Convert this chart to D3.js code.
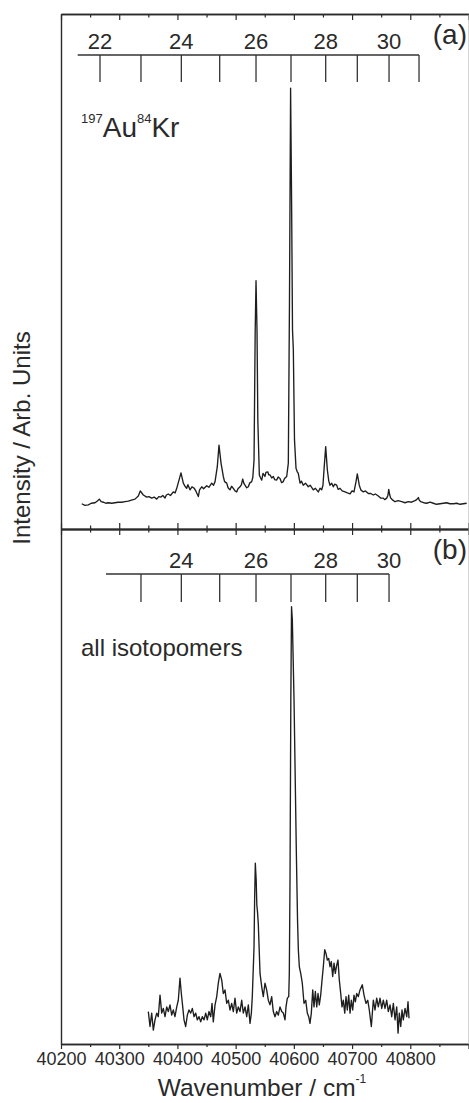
<!DOCTYPE html>
<html><head><meta charset="utf-8">
<script src="https://cdn.jsdelivr.net/npm/d3@7"></script>
<style>
html,body{margin:0;padding:0;background:#fff;}
svg{display:block;}
text{font-family:"Liberation Sans",Arial,Helvetica,sans-serif;fill:#2a2a2a;}
</style></head>
<body>
<svg id="chart" width="469" height="1103"></svg>
<script>
// ---------- data ----------
const xDomain = [40200, 40900];
const xTickValues = [40200, 40300, 40400, 40500, 40600, 40700, 40800, 40900];
const xTickLabels = ["40200", "40300", "40400", "40500", "40600", "40700", "40800", ""];
const xMinorTicks = [40250, 40350, 40450, 40550, 40650, 40750, 40850];

const panelLabels = ["(a)", "(b)"];
const speciesLabelA = [["197", "sup"], ["Au", "main"], ["84", "sup"], ["Kr", "main"]];
const speciesLabelB = "all isotopomers";
const xTitle = "Wavenumber / cm";
const xTitleSup = "-1";
const yTitle = "Intensity / Arb. Units";

// rotational assignment combs (J, wavenumber)
const combA_J  = [22, 23, 24, 25, 26, 27, 28, 29, 30, 31];
const combA_wn = [40267.0, 40337.4, 40406.7, 40472.6, 40535.0, 40595.1, 40654.7, 40709.0, 40763.5, 40815.0];
const combA_start = 40228.7;
const combB_J  = [23, 24, 25, 26, 27, 28, 29, 30];
const combB_wn = [40337.4, 40406.7, 40472.6, 40535.0, 40595.1, 40654.7, 40709.0, 40763.5];
const combB_start = 40277.3;

// spectrum (a): 197Au84Kr  [wavenumber, intensity]
const spectrumA = [[40235.6,4.9],[40241,4.6],[40246.9,4.7],[40252,5.0],[40258.4,5.1],[40262,5.4],[40265.8,5.8],[40269,5.3],[40272.7,5.2],[40277,5.0],[40281.3,5.1],[40287,5.0],[40292.8,5.1],[40298,5.2],[40304.3,5.2],[40310,5.3],[40315.6,5.4],[40321,5.6],[40327.1,5.8],[40332.8,6.4],[40336.2,7.4],[40341.4,6.6],[40347.2,6.2],[40351,6.3],[40355.8,6.0],[40360,6.2],[40364.4,5.8],[40368,6.3],[40371.8,6.2],[40375,6.5],[40378.7,6.0],[40381,6.6],[40384.3,6.8],[40388,6.5],[40392.9,7.2],[40396,7.0],[40398.8,7.9],[40402.7,9.5],[40406.1,10.9],[40410.1,8.9],[40413,8.3],[40415.9,7.9],[40418,8.6],[40421.6,7.6],[40425,8.2],[40429.0,7.9],[40432,7.3],[40435.9,6.3],[40438,7.6],[40441.7,8.2],[40445,7.8],[40450.3,8.4],[40454,8.1],[40458.9,8.9],[40462,8.5],[40464.6,9.2],[40468.5,12.1],[40471.4,16.3],[40474.9,12.8],[40478.8,10.2],[40481,9.2],[40484.7,8.9],[40487,8.0],[40490.3,7.6],[40493,8.3],[40496.0,7.9],[40499,7.4],[40501.8,7.2],[40504,7.8],[40507.5,8.2],[40510,8.6],[40512.1,9.7],[40514,8.9],[40516.1,8.5],[40519,8.0],[40521.8,8.2],[40524,8.9],[40527.6,9.2],[40529.5,10.0],[40531.6,13.4],[40533.6,38.6],[40535.0,48.2],[40536.7,38.6],[40538.1,21.2],[40540.7,10.5],[40542.5,10.0],[40544.8,9.5],[40547,10.8],[40550.4,10.2],[40552,11.0],[40555.1,11.1],[40557,10.5],[40559.0,10.5],[40562,9.9],[40564.7,10.2],[40567,9.6],[40570.5,9.5],[40573,10.1],[40576.2,9.8],[40579,9.0],[40581.9,9.2],[40584,9.8],[40587.7,10.2],[40590.5,12.8],[40592.5,44.5],[40594.4,85.6],[40596.1,63.9],[40597.7,38.6],[40599.1,34.8],[40601.1,17.3],[40603.7,11.8],[40605.5,11.2],[40607.6,10.8],[40610.6,8.9],[40613,9.3],[40616.2,8.5],[40620,8.9],[40624.8,8.2],[40628,8.5],[40633.4,7.6],[40637,7.9],[40642.0,7.2],[40645,7.9],[40647.8,7.6],[40650,8.5],[40651.8,11.5],[40654.7,16.0],[40657.5,11.5],[40660,9.3],[40662.1,8.5],[40665,8.9],[40667.8,8.2],[40670,8.7],[40673.6,8.5],[40676,7.7],[40679.3,7.9],[40683,7.4],[40687.9,7.2],[40692,7.0],[40696.5,6.8],[40700,7.4],[40703.3,7.2],[40706.8,9.2],[40709.0,10.7],[40712.4,8.5],[40715,7.6],[40719.3,7.2],[40723,7.4],[40727.9,6.9],[40732,6.9],[40736.5,6.6],[40740,6.8],[40745.1,6.4],[40749,6.0],[40753.7,6.0],[40756,5.7],[40759.5,6.0],[40761.5,6.5],[40763.0,7.7],[40764.7,6.6],[40766.4,6.0],[40770,5.6],[40773.8,5.3],[40779,5.5],[40785.3,5.3],[40791,5.1],[40796.6,5.3],[40802,5.2],[40808.1,5.5],[40811,5.7],[40813.8,6.1],[40815.5,5.6],[40817.9,5.3],[40823,5.1],[40828.2,5.0],[40834,5.2],[40839.6,5.0],[40845,4.8],[40851.1,4.9],[40857,5.0],[40862.6,5.1],[40868,4.9],[40873.9,4.9],[40880,5.0],[40885.4,4.8],[40891,4.9],[40896.9,5.0]];

// spectrum (b): all isotopomers  [wavenumber, intensity]
const spectrumB = [[40350.0,6.3],[40352.9,3.4],[40355.8,6.0],[40358.6,2.7],[40361.5,4.7],[40364.4,6.0],[40367.1,5.3],[40370.1,9.5],[40373.0,6.0],[40375.7,6.9],[40378.7,5.3],[40381.6,7.2],[40384.3,6.3],[40387.2,7.6],[40390.2,5.6],[40392.9,6.6],[40395.8,5.3],[40398.8,7.2],[40401.5,8.5],[40404.4,12.8],[40406.7,9.8],[40409.1,7.2],[40411.3,4.7],[40414.2,3.4],[40417.0,5.6],[40419.9,6.6],[40422.8,6.0],[40425.6,6.9],[40428.5,5.3],[40431.4,6.0],[40434.1,4.7],[40437.1,5.3],[40440.0,4.3],[40442.7,5.3],[40445.7,4.7],[40448.6,6.0],[40451.3,4.7],[40454.2,6.3],[40457.2,5.3],[40459.4,7.9],[40461.6,4.3],[40464.6,7.6],[40467.5,9.2],[40470.2,11.8],[40473.1,13.7],[40476.1,12.4],[40478.8,9.8],[40481.7,10.5],[40484.7,7.9],[40487.4,8.5],[40490.3,6.6],[40493.2,7.9],[40496.0,6.3],[40498.9,8.9],[40501.8,6.0],[40504.6,7.2],[40507.5,6.3],[40510.4,8.5],[40513.2,6.0],[40516.1,7.2],[40519.0,5.3],[40521.8,7.6],[40524.7,4.0],[40527.0,6.0],[40528.6,9.2],[40531.6,18.9],[40532.6,28.0],[40533.8,35.1],[40535.3,31.8],[40536.4,27.0],[40537.6,25.6],[40538.9,23.4],[40541.9,13.7],[40544.8,11.1],[40547.5,9.2],[40550.4,11.8],[40553.3,10.5],[40556.1,8.5],[40559.0,7.6],[40561.9,9.2],[40564.7,6.3],[40567.6,5.3],[40570.5,6.3],[40573.3,5.6],[40576.2,7.2],[40579.1,6.3],[40581.9,6.0],[40584.8,4.7],[40586.5,7.2],[40588.8,8.9],[40591.2,9.2],[40592.2,13.7],[40593.4,31.8],[40594.8,66.8],[40596.0,84.9],[40597.4,82.3],[40600.3,66.8],[40604.2,37.7],[40606.3,24.1],[40607.7,18.3],[40609.4,15.0],[40611.8,13.7],[40614.5,11.8],[40617.4,7.9],[40620.4,8.5],[40623.1,6.0],[40625.5,5.3],[40627.7,4.0],[40630.0,6.0],[40632.4,10.5],[40634.6,7.2],[40636.9,10.2],[40639.3,7.2],[40641.5,9.8],[40643.7,7.6],[40646.1,9.5],[40648.4,12.4],[40650.6,15.0],[40653.0,18.3],[40655.2,17.6],[40657.5,16.3],[40659.9,16.6],[40662.1,15.0],[40664.3,16.0],[40666.7,13.1],[40669.0,15.7],[40671.2,13.7],[40673.6,15.3],[40675.8,16.3],[40678.1,12.4],[40680.5,9.8],[40682.7,7.2],[40685.0,8.5],[40687.4,6.0],[40689.6,9.2],[40691.8,6.6],[40694.2,9.5],[40696.5,6.0],[40698.7,8.5],[40701.1,6.6],[40703.3,9.5],[40705.6,8.2],[40708.0,9.8],[40710.7,9.2],[40713.6,10.5],[40717.6,11.5],[40720.5,9.5],[40723.9,7.9],[40726.9,8.5],[40729.6,6.6],[40733.1,3.4],[40736.5,8.5],[40739.4,6.6],[40742.3,8.9],[40745.1,7.2],[40748.0,8.9],[40751.0,6.9],[40753.7,8.5],[40756.6,6.9],[40759.5,8.5],[40762.3,6.3],[40765.2,7.6],[40768.1,5.3],[40770.9,7.9],[40773.8,4.7],[40776.7,7.2],[40779.0,2.1],[40781.2,6.0],[40783.6,3.4],[40785.8,6.6],[40788.0,4.7],[40791.0,6.9],[40793.9,5.3],[40796.1,8.2],[40797.8,5.0]];

const yDomain = [0, 100];

// ---------- drawing ----------
const svg = d3.select("#chart");
const left = 61, right = 468.5;
const panels = [
  {top: 14, bottom: 529, data: spectrumA, label: panelLabels[0]},
  {top: 529, bottom: 1044, data: spectrumB, label: panelLabels[1]}
];
const ink = "#1e1e1e";
const x = d3.scaleLinear().domain(xDomain).range([left, right]);

panels.forEach(p => {
  p.y = d3.scaleLinear().domain(yDomain).range([p.bottom, p.top]);
});

// spectra
panels.forEach(p => {
  const line = d3.line().x(d => x(d[0])).y(d => p.y(d[1]));
  svg.append("path").datum(p.data)
    .attr("d", line).attr("fill", "none")
    .attr("stroke", ink).attr("stroke-width", 1.35)
    .attr("stroke-linejoin", "round");
});

// axes
const axisG = svg.append("g");
function hAxis(yPos, dir, majorLen, minorLen, withLabels) {
  const g = axisG.append("g").attr("transform", `translate(0,${yPos})`);
  const ax = (dir === "down" ? d3.axisBottom(x) : d3.axisTop(x))
    .tickValues(xTickValues).tickSize(majorLen).tickSizeOuter(0)
    .tickFormat((d, i) => withLabels ? xTickLabels[i] : "");
  g.call(ax);
  const gm = axisG.append("g").attr("transform", `translate(0,${yPos})`);
  const axm = (dir === "down" ? d3.axisBottom(x) : d3.axisTop(x))
    .tickValues(xMinorTicks).tickSize(minorLen).tickSizeOuter(0).tickFormat("");
  gm.call(axm);
  [g, gm].forEach(gg => {
    gg.select(".domain").attr("stroke", "#2a2a2a").attr("stroke-width", 1.4);
    gg.selectAll(".tick line").attr("stroke", "#2a2a2a").attr("stroke-width", 1.2);
  });
  if (withLabels) {
    g.selectAll(".tick text")
      .attr("font-size", 18).attr("fill", "#2a2a2a")
      .attr("font-family", '"Liberation Sans",Arial,sans-serif')
      .attr("dy", null).attr("y", 21);
  }
}
hAxis(panels[0].top, "down", 6, 3.5, false);
hAxis(panels[0].bottom, "up", 6, 3.5, false);
hAxis(panels[1].top, "down", 6, 3.5, false);
hAxis(panels[1].bottom, "down", 5, 3, true);

// left axis
const yFull = d3.scaleLinear().domain([0, 1]).range([panels[1].bottom, panels[0].top]);
const ly = axisG.append("g").attr("transform", `translate(${left},0)`)
  .call(d3.axisLeft(yFull).tickValues([]).tickSizeOuter(0));
ly.select(".domain").attr("stroke", "#2a2a2a").attr("stroke-width", 1.4);
// right frame (faint)
const ry = axisG.append("g").attr("transform", `translate(${right},0)`)
  .call(d3.axisRight(yFull).tickValues([]).tickSizeOuter(0));
ry.select(".domain").attr("stroke", "#aaa").attr("stroke-width", 1);

// combs
function comb(Js, wns, start, lineY, tickLen, labelY) {
  const g = svg.append("g");
  g.append("line")
    .attr("x1", x(start)).attr("x2", x(wns[wns.length - 1]))
    .attr("y1", lineY).attr("y2", lineY)
    .attr("stroke", "#333").attr("stroke-width", 1.3);
  g.selectAll("line.t").data(wns).enter().append("line")
    .attr("class", "t")
    .attr("x1", d => x(d)).attr("x2", d => x(d))
    .attr("y1", lineY).attr("y2", lineY + tickLen)
    .attr("stroke", "#333").attr("stroke-width", 1.3);
  g.selectAll("text").data(Js.map((j, i) => [j, wns[i]]).filter(d => d[0] % 2 === 0))
    .enter().append("text")
    .attr("x", d => x(d[1])).attr("y", labelY)
    .attr("text-anchor", "middle").attr("font-size", 22)
    .text(d => d[0]);
}
comb(combA_J, combA_wn, combA_start, panels[0].top + 41, 27, panels[0].top + 35);
comb(combB_J, combB_wn, combB_start, panels[1].top + 45, 28, panels[1].top + 39);

// panel letters
svg.append("text").attr("x", 467).attr("y", panels[0].top + 30)
  .attr("text-anchor", "end").attr("font-size", 28).text(panels[0].label);
svg.append("text").attr("x", 467).attr("y", panels[1].top + 30)
  .attr("text-anchor", "end").attr("font-size", 28).text(panels[1].label);

// species labels
const sl = svg.append("text").attr("x", 81).attr("y", 137);
let cur = "main";
speciesLabelA.forEach(([t, kind]) => {
  const ts = sl.append("tspan").text(t);
  if (kind === "sup") {
    ts.attr("font-size", 13).attr("dy", cur === "main" ? -14.5 : 0);
  } else {
    ts.attr("font-size", 28).attr("dy", cur === "sup" ? 14.5 : 0);
  }
  cur = kind;
});
svg.append("text").attr("x", 81).attr("y", 656).attr("font-size", 24).text(speciesLabelB);

// axis titles
const xt = svg.append("text").attr("x", 262).attr("y", 1096)
  .attr("text-anchor", "middle").attr("font-size", 24.5);
xt.append("tspan").text(xTitle);
xt.append("tspan").attr("font-size", 12).attr("dy", -13).text(xTitleSup);

svg.append("text")
  .attr("transform", "translate(30,438) rotate(-90)")
  .attr("text-anchor", "middle").attr("font-size", 24).text(yTitle);
</script>
</body></html>
